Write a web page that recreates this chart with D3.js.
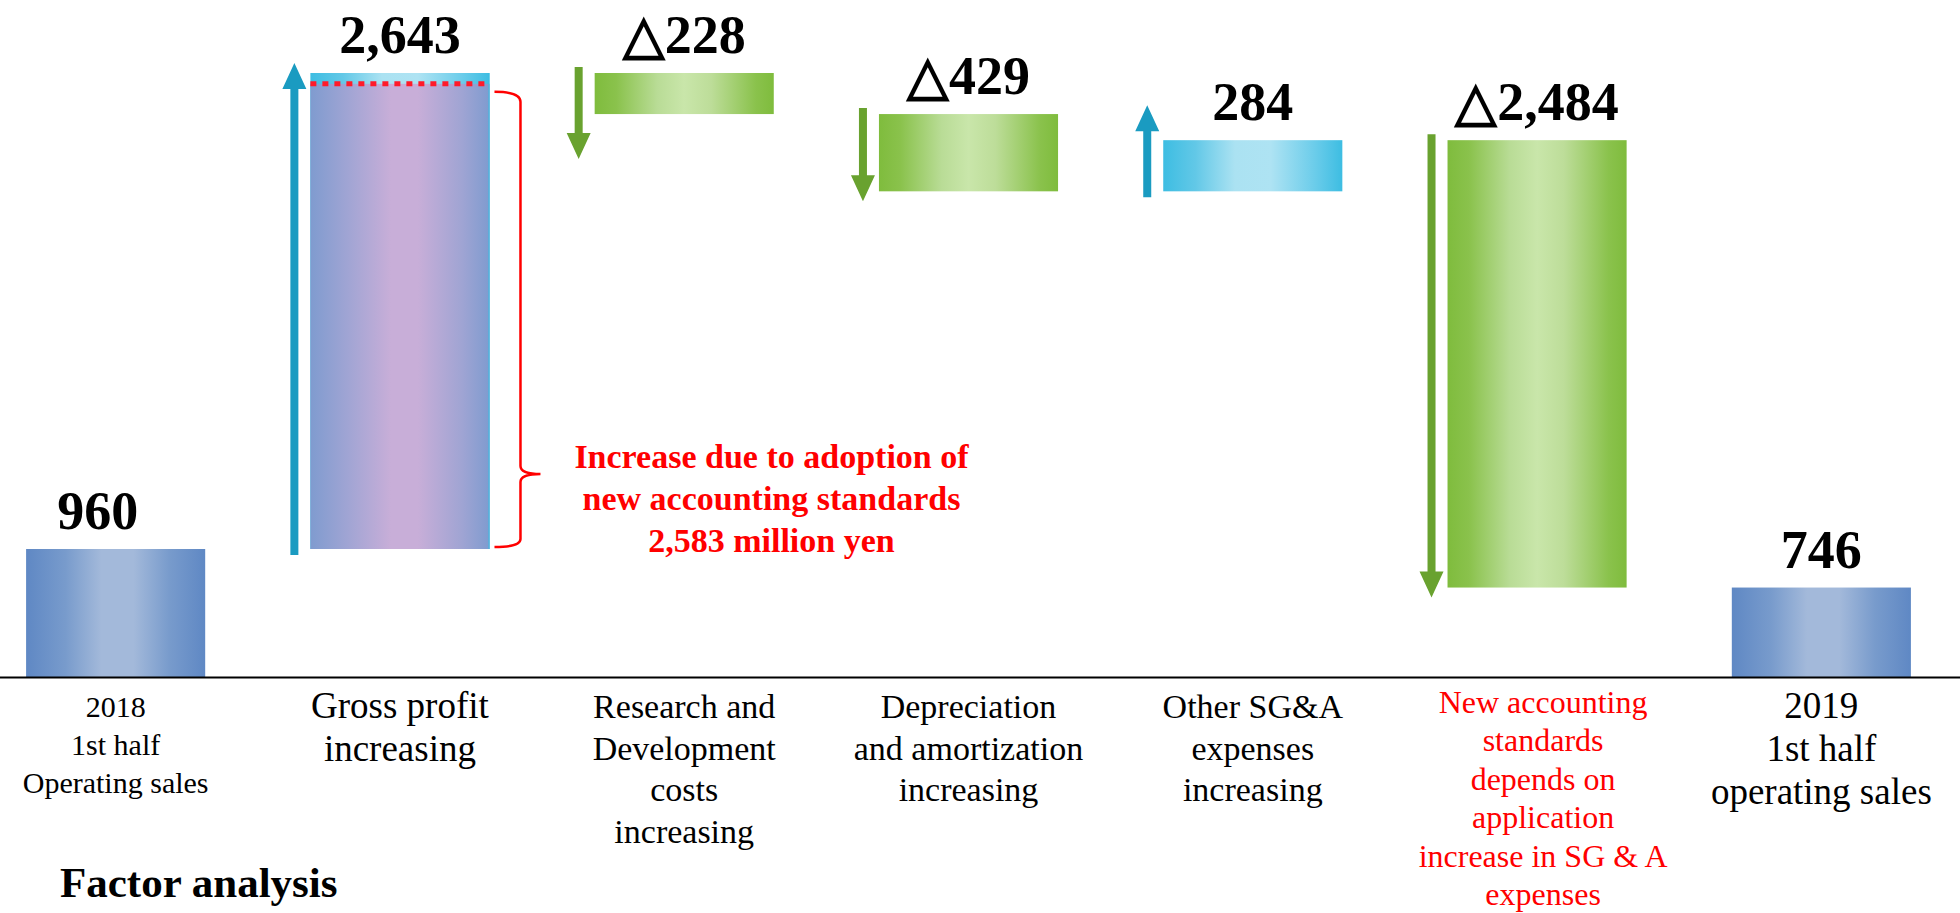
<!DOCTYPE html>
<html>
<head>
<meta charset="utf-8">
<script src="https://cdn.jsdelivr.net/npm/d3@7"></script>
<style>
  body { margin: 0; background: #fff; }
  svg { display: block; font-family: "Liberation Serif", "Times New Roman", serif; }
</style>
</head>
<body>
<svg id="chart" width="1960" height="913"></svg>
<script>
// chart data
const categories = ["start", "gross", "rnd", "depr", "other", "standards", "end"];
const categoryLines = [
  ["2018", "1st half", "Operating sales"],
  ["Gross profit", "increasing"],
  ["Research and", "Development", "costs", "increasing"],
  ["Depreciation", "and amortization", "increasing"],
  ["Other SG&A", "expenses", "increasing"],
  ["New accounting", "standards", "depends on", "application", "increase in SG & A", "expenses"],
  ["2019", "1st half", "operating sales"]
];
const values = [960, 2643, -228, -429, 284, -2484, 746];
const valueLabels = ["960", "2,643", "\u25B3228", "\u25B3429", "284", "\u25B32,484", "746"];
const standardsIncrease = 2583;
const noteLines = ["Increase due to adoption of", "new accounting standards", "2,583 million yen"];

// waterfall levels
let running = values[0];
const bars = values.map((v, i) => {
  if (i === 0 || i === values.length - 1) return { key: categories[i], total: true, from: null, to: v, value: v, i };
  const from = running;
  running += v;
  return { key: categories[i], total: false, from, to: running, value: v, i };
});

const svg = d3.select("#chart");
const baseY = 677;

const x = d3.scaleBand()
  .domain(categories)
  .range([-26.5, 1963.5])
  .paddingInner(0.37)
  .paddingOuter(0.185);

// level scale for the waterfall steps (totals are drawn down to the broken base)
const y = d3.scaleLinear()
  .domain([values[0], d3.max(bars, d => d.to)])
  .range([549, 73]);

// gradients
const defs = svg.append("defs");
const grads = {
  blue:   [["0%", "#5f88c4"], ["22%", "#789bcc"], ["42%", "#a3b9da"], ["60%", "#a3b9da"], ["80%", "#789bcc"], ["100%", "#5f88c4"]],
  purple: [["0%", "#7f9bcf"], ["22%", "#a2a5d4"], ["45%", "#c8aed8"], ["60%", "#c8aed8"], ["85%", "#9fa4d3"], ["100%", "#7f9bcf"]],
  cyan:   [["0%", "#3dbde2"], ["18%", "#62c8e7"], ["40%", "#abe2f2"], ["60%", "#aee3f3"], ["85%", "#6accea"], ["100%", "#3dbde2"]],
  green:  [["0%", "#7fbc3d"], ["12%", "#8ac24c"], ["35%", "#b9dc96"], ["50%", "#c9e6aa"], ["65%", "#bddd99"], ["90%", "#8ac24c"], ["100%", "#7fbc3d"]]
};
Object.entries(grads).forEach(([name, stops]) => {
  const g = defs.append("linearGradient").attr("id", "g-" + name)
    .attr("x1", "0%").attr("x2", "100%").attr("y1", "0%").attr("y2", "0%");
  stops.forEach(([o, c]) => g.append("stop").attr("offset", o).attr("stop-color", c));
});

const barTop = d => d.total ? y(d.to) : y(Math.max(d.from, d.to));
const barBottom = d => d.total ? baseY : y(Math.min(d.from, d.to));
const fillOf = d => d.total ? "url(#g-blue)" : d.value > 0 ? "url(#g-cyan)" : "url(#g-green)";

// bars
svg.append("g").selectAll("rect")
  .data(bars)
  .join("rect")
  .attr("x", d => x(d.key))
  .attr("y", barTop)
  .attr("width", x.bandwidth())
  .attr("height", d => barBottom(d) - barTop(d))
  .attr("fill", fillOf);

// gross profit: part from new accounting standards drawn in purple
const gross = bars[1];
const stdY = y(gross.from + standardsIncrease);
svg.append("rect")
  .attr("x", x(gross.key))
  .attr("y", stdY)
  .attr("width", x.bandwidth())
  .attr("height", y(gross.from) - stdY)
  .attr("fill", "url(#g-purple)");
svg.append("line")
  .attr("x1", x(gross.key) + x.bandwidth() - 0.5).attr("x2", x(gross.key) + x.bandwidth() - 0.5)
  .attr("y1", y(gross.to)).attr("y2", y(gross.from))
  .attr("stroke", "#3dbde2").attr("stroke-width", 1);
svg.append("line")
  .attr("x1", x(gross.key)).attr("x2", x(gross.key) + x.bandwidth() - 2)
  .attr("y1", stdY).attr("y2", stdY)
  .attr("stroke", "#ff1a2a").attr("stroke-width", 5)
  .attr("stroke-dasharray", "6,6");

// arrows beside the step bars
function arrowPath(cx, yTail, yTip) {
  const dir = yTip < yTail ? -1 : 1;
  const sw = 4, hw = 12, hl = 26;
  const yb = yTip - dir * hl;
  return `M${cx - sw},${yTail} L${cx - sw},${yb} L${cx - hw},${yb} L${cx},${yTip} L${cx + hw},${yb} L${cx + sw},${yb} L${cx + sw},${yTail} Z`;
}
svg.append("g").selectAll("path")
  .data(bars.filter(d => !d.total))
  .join("path")
  .attr("d", d => {
    const dir = d.value > 0 ? -1 : 1;
    const tail = y(d.from) - dir * 6;
    let tip = y(d.to) + dir * 10;
    if (Math.abs(tip - tail) < 92) tip = tail + dir * 92;
    return arrowPath(x(d.key) - 16, tail, tip);
  })
  .attr("fill", d => d.value > 0 ? "#1a9bc1" : "#69a22f");

// value labels
svg.append("g").selectAll("text")
  .data(bars)
  .join("text")
  .attr("x", d => x(d.key) + x.bandwidth() / 2 + (d.i === 0 ? -18 : 0))
  .attr("y", d => barTop(d) - 20)
  .attr("text-anchor", "middle")
  .style("font-size", "54px")
  .style("font-weight", "bold")
  .text(d => valueLabels[d.i]);

// base line
svg.append("g")
  .attr("transform", `translate(0,${baseY})`)
  .call(d3.axisBottom(x).tickSize(0).tickSizeOuter(0).tickFormat(""))
  .call(g => g.select(".domain").attr("stroke", "#000").attr("stroke-width", 2));

// category labels
const labelSize = [30, 37, 34, 34, 34, 32, 37];
const labelLead = [38, 43, 41.5, 41.5, 41.5, 38.4, 43];
const labelGroups = svg.append("g").selectAll("text")
  .data(categories)
  .join("text")
  .attr("text-anchor", "middle")
  .attr("fill", (d, i) => i === 5 ? "#ff0000" : "#000")
  .style("font-size", (d, i) => labelSize[i] + "px");
labelGroups.each(function(d, i) {
  const t = d3.select(this);
  categoryLines[i].forEach((line, j) => {
    t.append("tspan")
      .attr("x", x(d) + x.bandwidth() / 2 + (i === 5 ? 6 : 0))
      .attr("y", (i === 5 ? 713 : i === 0 ? 717 : 718) + j * labelLead[i])
      .text(line);
  });
});

// brace + note for the accounting standards part
const bx = x(gross.key) + x.bandwidth();
const braceTop = stdY + 8, braceBot = y(gross.from) - 2, tipY = 474;
svg.append("path")
  .attr("d", `M${bx + 5},${braceTop} Q${bx + 31},${braceTop} ${bx + 31},${braceTop + 10}
    L${bx + 31},${tipY - 8} Q${bx + 31},${tipY} ${bx + 51},${tipY}
    Q${bx + 31},${tipY} ${bx + 31},${tipY + 8}
    L${bx + 31},${braceBot - 8} Q${bx + 31},${braceBot} ${bx + 5},${braceBot}`)
  .attr("fill", "none")
  .attr("stroke", "#ff0000")
  .attr("stroke-width", 2.5);

svg.append("text")
  .attr("text-anchor", "middle")
  .attr("fill", "#ff0000")
  .style("font-size", "34px")
  .style("font-weight", "bold")
  .selectAll("tspan")
  .data(noteLines)
  .join("tspan")
  .attr("x", bx + 282)
  .attr("y", (d, i) => 468 + i * 42)
  .text(d => d);

// footer title
svg.append("text")
  .attr("x", 60)
  .attr("y", 897)
  .style("font-size", "43px")
  .style("font-weight", "bold")
  .text("Factor analysis");
</script>
</body>
</html>
